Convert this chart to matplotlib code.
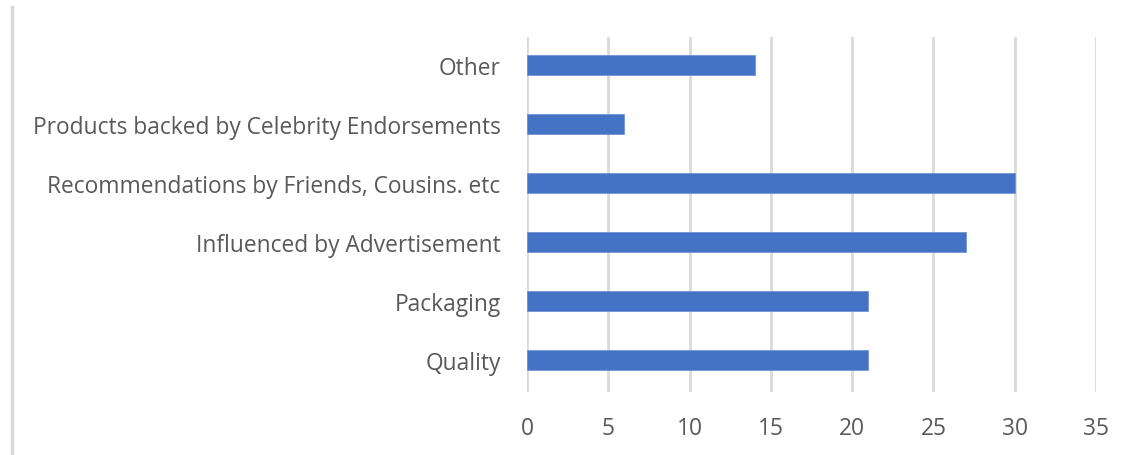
import matplotlib.pyplot as plt
from matplotlib.lines import Line2D

categories = ['Quality', 'Packaging', 'Influenced by Advertisement',
              'Recommendations by Friends, Cousins. etc',
              'Products backed by Celebrity Endorsements', 'Other']
values = [21, 21, 27, 30, 6, 14]
xticks = [0, 5, 10, 15, 20, 25, 30, 35]

fig = plt.figure(figsize=(11.33, 4.56), dpi=100)
ax = fig.add_axes([0.4651, 0.1382, 0.5022, 0.7785])

pos = list(range(len(categories)))
ax.barh(pos, values, height=0.34, color='#4472C4', edgecolor='#6f93d6', linewidth=0.6, zorder=3)

ax.set_xlim(0, 35)
ax.set_ylim(-0.54, 5.475)
ax.set_xticks(xticks)
ax.set_yticks(pos)
ax.set_yticklabels(categories)
ax.grid(axis='x', color='#d9d9d9', linewidth=2, zorder=0)
for s in ax.spines.values():
    s.set_visible(False)
ax.tick_params(length=0, labelsize=16.4, labelcolor='#595959')
ax.tick_params(axis='x', pad=17)
ax.tick_params(axis='y', pad=19)
for lbl in ax.get_xticklabels() + ax.get_yticklabels():
    lbl.set_family('Open Sans')

# chart frame edge on the left
fig.add_artist(Line2D([12 / 1133, 12 / 1133], [0, 1 - 8 / 456], color='#d9d9d9', linewidth=2.5))

fig.savefig('out.png', dpi=100)
